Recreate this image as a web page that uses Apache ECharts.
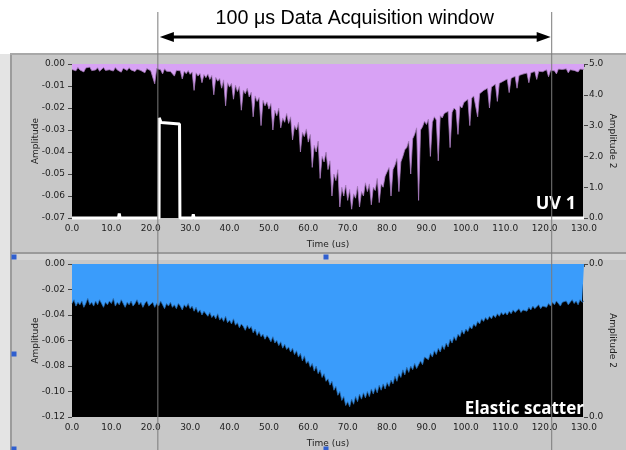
<!DOCTYPE html>
<html>
<head>
<meta charset="utf-8">
<title>UV 1 / Elastic scatter</title>
<script src="https://cdn.jsdelivr.net/npm/echarts@6/dist/echarts.min.js"></script>
<style>
  html, body { margin: 0; padding: 0; background: #ffffff; }
  #chart { width: 626px; height: 450px; }
</style>
</head>
<body>
<div id="chart"></div>
<script>
// ---- data -------------------------------------------------------------
// Samples are taken every 0.5 us from 0 to 130 us.
const SAMPLE_STEP_US = 0.5;

const TIME_TICKS = [0, 10, 20, 30, 40, 50, 60, 70, 80, 90, 100, 110, 120, 130];
const UV_AMP_TICKS = [-0.07, -0.06, -0.05, -0.04, -0.03, -0.02, -0.01, 0.00];
const UV_AMP2_TICKS = [0, 1, 2, 3, 4, 5];
const ES_AMP_TICKS = [-0.12, -0.10, -0.08, -0.06, -0.04, -0.02, 0.00];
const ES_AMP2_TICKS = [0, 0.04];

// acquisition window edges (us)
const WINDOW_US = [21.8, 121.8];

// UV 1 amplitude
const UV1_AMPLITUDE = [
  -0.0025, -0.0019, -0.0031, -0.0016, -0.0027, -0.0022, -0.0036, -0.0018, -0.0026, -0.0014,
  -0.0030, -0.0021, -0.0027, -0.0017, -0.0033, -0.0024, -0.0016, -0.0029, -0.0020, -0.0026,
  -0.0022, -0.0032, -0.0016, -0.0027, -0.0021, -0.0037, -0.0019, -0.0025, -0.0029, -0.0017,
  -0.0027, -0.0020, -0.0034, -0.0023, -0.0015, -0.0030, -0.0022, -0.0040, -0.0021, -0.0028,
  -0.0031, -0.0023, -0.0090, -0.0021, -0.0030, -0.0026, -0.0045, -0.0022, -0.0033, -0.0027,
  -0.0034, -0.0025, -0.0055, -0.0029, -0.0038, -0.0031, -0.0068, -0.0033, -0.0044, -0.0030,
  -0.0047, -0.0036, -0.0120, -0.0040, -0.0055, -0.0043, -0.0085, -0.0048, -0.0062, -0.0045,
  -0.0070, -0.0052, -0.0140, -0.0061, -0.0078, -0.0066, -0.0110, -0.0072, -0.0190, -0.0085,
  -0.0105, -0.0088, -0.0160, -0.0096, -0.0125, -0.0102, -0.0210, -0.0118, -0.0135, -0.0110,
  -0.0150, -0.0128, -0.0240, -0.0145, -0.0170, -0.0152, -0.0280, -0.0165, -0.0190, -0.0172,
  -0.0205, -0.0180, -0.0300, -0.0210, -0.0235, -0.0200, -0.0290, -0.0245, -0.0265, -0.0225,
  -0.0270, -0.0240, -0.0345, -0.0280, -0.0300, -0.0265, -0.0400, -0.0310, -0.0330, -0.0295,
  -0.0355, -0.0320, -0.0470, -0.0370, -0.0400, -0.0350, -0.0520, -0.0420, -0.0445, -0.0400,
  -0.0480, -0.0440, -0.0600, -0.0500, -0.0530, -0.0480, -0.0650, -0.0560, -0.0600, -0.0550,
  -0.0620, -0.0570, -0.0660, -0.0590, -0.0610, -0.0555, -0.0650, -0.0580, -0.0600, -0.0540,
  -0.0580, -0.0545, -0.0640, -0.0560, -0.0575, -0.0520, -0.0630, -0.0545, -0.0560, -0.0510,
  -0.0505, -0.0470, -0.0600, -0.0480, -0.0460, -0.0430, -0.0580, -0.0445, -0.0420, -0.0390,
  -0.0380, -0.0350, -0.0500, -0.0340, -0.0320, -0.0290, -0.0620, -0.0300, -0.0285, -0.0260,
  -0.0275, -0.0250, -0.0420, -0.0265, -0.0240, -0.0255, -0.0440, -0.0235, -0.0245, -0.0225,
  -0.0230, -0.0215, -0.0380, -0.0220, -0.0200, -0.0210, -0.0320, -0.0190, -0.0200, -0.0175,
  -0.0170, -0.0160, -0.0280, -0.0155, -0.0145, -0.0150, -0.0240, -0.0135, -0.0130, -0.0120,
  -0.0125, -0.0110, -0.0200, -0.0105, -0.0100, -0.0092, -0.0170, -0.0088, -0.0085, -0.0078,
  -0.0075, -0.0068, -0.0130, -0.0065, -0.0060, -0.0056, -0.0110, -0.0052, -0.0050, -0.0046,
  -0.0048, -0.0041, -0.0085, -0.0040, -0.0037, -0.0034, -0.0070, -0.0033, -0.0031, -0.0035,
  -0.0030, -0.0026, -0.0058, -0.0029, -0.0024, -0.0031, -0.0045, -0.0023, -0.0028, -0.0025,
  -0.0027, -0.0022, -0.0040, -0.0026, -0.0021, -0.0029, -0.0024, -0.0036, -0.0023, -0.0026,
  -0.0025
];

// trigger pulse on Amplitude 2
const TRIGGER_TIME  = [0, 11.8, 12.0, 12.2, 22.1, 22.15, 22.6, 23.0, 27.3, 27.4, 30.6, 30.8, 31.0, 130];
const TRIGGER_LEVEL = [0, 0,    0.15, 0,    0,    3.25,  3.10, 3.05, 3.05, 0,    0,    0.12, 0,    0];

// Elastic scatter amplitude
const ELASTIC_AMPLITUDE = [
  -0.031, -0.028, -0.033, -0.030, -0.032, -0.029, -0.034, -0.031, -0.027, -0.032,
  -0.030, -0.033, -0.029, -0.032, -0.028, -0.031, -0.034, -0.030, -0.032, -0.029,
  -0.031, -0.027, -0.033, -0.030, -0.032, -0.028, -0.031, -0.034, -0.030, -0.032,
  -0.029, -0.033, -0.031, -0.028, -0.032, -0.030, -0.034, -0.031, -0.029, -0.033,
  -0.032, -0.030, -0.034, -0.031, -0.033, -0.029, -0.032, -0.035, -0.031, -0.033,
  -0.030, -0.034, -0.032, -0.035, -0.031, -0.033, -0.036, -0.032, -0.034, -0.031,
  -0.035, -0.033, -0.037, -0.034, -0.038, -0.036, -0.040, -0.037, -0.039, -0.041,
  -0.038, -0.042, -0.040, -0.043, -0.039, -0.044, -0.042, -0.045, -0.041, -0.046,
  -0.044, -0.047, -0.043, -0.048, -0.046, -0.050, -0.047, -0.049, -0.052, -0.048,
  -0.051, -0.049, -0.054, -0.051, -0.056, -0.053, -0.057, -0.055, -0.059, -0.056,
  -0.058, -0.061, -0.057, -0.062, -0.060, -0.064, -0.061, -0.066, -0.063, -0.067,
  -0.065, -0.069, -0.066, -0.071, -0.068, -0.073, -0.070, -0.076, -0.072, -0.078,
  -0.076, -0.081, -0.078, -0.084, -0.080, -0.086, -0.083, -0.089, -0.086, -0.092,
  -0.090, -0.095, -0.092, -0.099, -0.096, -0.103, -0.100, -0.107, -0.104, -0.111,
  -0.108, -0.112, -0.106, -0.110, -0.104, -0.108, -0.102, -0.106, -0.101, -0.105,
  -0.100, -0.104, -0.098, -0.102, -0.097, -0.101, -0.095, -0.099, -0.094, -0.098,
  -0.093, -0.096, -0.091, -0.094, -0.088, -0.092, -0.086, -0.089, -0.083, -0.087,
  -0.081, -0.085, -0.080, -0.083, -0.078, -0.082, -0.079, -0.076, -0.079, -0.073,
  -0.072, -0.075, -0.070, -0.073, -0.068, -0.071, -0.066, -0.069, -0.064, -0.067,
  -0.062, -0.065, -0.059, -0.062, -0.057, -0.060, -0.055, -0.057, -0.052, -0.055,
  -0.051, -0.053, -0.049, -0.051, -0.047, -0.049, -0.045, -0.047, -0.043, -0.045,
  -0.042, -0.044, -0.041, -0.043, -0.040, -0.042, -0.039, -0.041, -0.038, -0.040,
  -0.038, -0.040, -0.037, -0.039, -0.036, -0.038, -0.037, -0.035, -0.038, -0.036,
  -0.035, -0.037, -0.034, -0.036, -0.033, -0.035, -0.034, -0.032, -0.035, -0.033,
  -0.032, -0.034, -0.031, -0.033, -0.030, -0.032, -0.029, -0.031, -0.033, -0.030,
  -0.031, -0.029, -0.032, -0.030, -0.028, -0.031, -0.029, -0.032, -0.028, -0.030,
  -0.029
];

// ---- chart ------------------------------------------------------------
const LABEL_FONT = 'DejaVu Sans, Verdana, sans-serif';
const PANEL_GREY = '#c8c8c8';
const GRIDS = [
  { left: 72, top: 64, width: 512, height: 154 },
  { left: 72, top: 264, width: 512, height: 153 }
];

function toPoints(values) {
  return values.map((v, i) => [i * SAMPLE_STEP_US, v]);
}
function rangeOf(ticks) {
  return { min: ticks[0], max: ticks[ticks.length - 1], interval: ticks[1] - ticks[0] };
}
function fixed(v, digits) {
  // avoid "-0.00" from floating point residue at the zero tick
  return (Math.abs(v) < 1e-9 ? 0 : v).toFixed(digits);
}

const timeRange = rangeOf(TIME_TICKS);

function timeAxis(gridIndex) {
  return {
    type: 'value', gridIndex,
    min: timeRange.min, max: timeRange.max, interval: timeRange.interval,
    name: 'Time (us)', nameLocation: 'middle', nameGap: 22, nameMoveOverlap: false,
    nameTextStyle: { fontFamily: LABEL_FONT, fontSize: 9, color: '#222' },
    axisLine: { show: false },
    axisTick: { show: true, length: 3, lineStyle: { color: '#444' } },
    axisLabel: { fontFamily: LABEL_FONT, fontSize: 9, color: '#222', margin: 6,
                 formatter: v => fixed(v, 1) },
    splitLine: { show: false }
  };
}

function ampAxis(gridIndex, ticks, position, name, digits) {
  const r = rangeOf(ticks);
  const left = position === 'left';
  return {
    type: 'value', gridIndex, position,
    min: r.min, max: r.max, interval: r.interval,
    name, nameLocation: 'middle', nameMoveOverlap: false,
    nameGap: left ? 32 : 24,
    nameRotate: left ? 90 : -90,
    nameTextStyle: { fontFamily: LABEL_FONT, fontSize: 9, color: '#222' },
    axisLine: { show: false },
    axisTick: { show: true, length: 4, lineStyle: { color: '#444' } },
    axisLabel: { fontFamily: LABEL_FONT, fontSize: 9, color: '#222', margin: left ? 7 : 5,
                 formatter: v => fixed(v, digits) },
    splitLine: { show: false }
  };
}

const chart = echarts.init(document.getElementById('chart'), null, { renderer: 'canvas' });

const option = {
  animation: false,
  backgroundColor: PANEL_GREY,
  grid: GRIDS.map(g => Object.assign({ containLabel: false, outerBoundsMode: 'none' }, g)),
  xAxis: [timeAxis(0), timeAxis(1)],
  yAxis: [
    ampAxis(0, UV_AMP_TICKS, 'left', 'Amplitude', 2),
    ampAxis(0, UV_AMP2_TICKS, 'right', 'Amplitude 2', 1),
    ampAxis(1, ES_AMP_TICKS, 'left', 'Amplitude', 2),
    ampAxis(1, ES_AMP2_TICKS, 'right', 'Amplitude 2', 1)
  ],
  series: [
    {
      name: 'UV 1', type: 'line', xAxisIndex: 0, yAxisIndex: 0,
      data: toPoints(UV1_AMPLITUDE),
      symbol: 'none', z: 2,
      lineStyle: { color: '#a77bbd', width: 0.8 },
      areaStyle: { color: '#d8a2f5', opacity: 1, origin: 'end' }
    },
    {
      name: 'Trigger', type: 'line', xAxisIndex: 0, yAxisIndex: 1,
      data: TRIGGER_TIME.map((t, i) => [t, TRIGGER_LEVEL[i]]),
      symbol: 'none', clip: false, z: 3,
      lineStyle: { color: '#ffffff', width: 3 }
    },
    {
      name: 'Elastic scatter', type: 'line', xAxisIndex: 1, yAxisIndex: 2,
      data: toPoints(ELASTIC_AMPLITUDE),
      symbol: 'none', z: 2,
      lineStyle: { color: '#2a6cb0', width: 0.8 },
      areaStyle: { color: '#3a9cfb', opacity: 1, origin: 'end' }
    }
  ]
};
chart.setOption(option);

// ---- frame, annotations and window markers ---------------------------
const xLeft = chart.convertToPixel({ xAxisIndex: 0 }, WINDOW_US[0]);
const xRight = chart.convertToPixel({ xAxisIndex: 0 }, WINDOW_US[1]);
const arrowY = 37;

function dot(x, y) {
  return { type: 'rect', shape: { x: x - 2.5, y: y - 2.5, width: 5, height: 5 },
           style: { fill: '#2f5fd0' }, z: 50 };
}
function plotBackground(g) {
  return { type: 'rect', z: -1,
           shape: { x: g.left, y: g.top, width: g.width - 1, height: g.height },
           style: { fill: '#000000' } };
}

chart.setOption({
  graphic: [
    // white header strip and panel frame
    { type: 'rect', shape: { x: 0, y: 0, width: 626, height: 54 }, style: { fill: '#ffffff' }, z: -1 },
    { type: 'rect', shape: { x: 0, y: 54, width: 10, height: 396 }, style: { fill: '#e4e4e4' }, z: -1 },
    { type: 'rect', shape: { x: 10, y: 54, width: 2, height: 396 }, style: { fill: '#9c9c9c' }, z: -1 },
    { type: 'rect', shape: { x: 10, y: 53, width: 616, height: 2 }, style: { fill: '#a8a8a8' }, z: -1 },
    { type: 'rect', shape: { x: 10, y: 252, width: 616, height: 2 }, style: { fill: '#9a9a9a' }, z: -1 },
    { type: 'rect', shape: { x: 12, y: 254, width: 614, height: 6 }, style: { fill: '#d4d4d4' }, z: -1 },
    plotBackground(GRIDS[0]),
    plotBackground(GRIDS[1]),

    // panel captions
    { type: 'text', z: 40, style: { text: 'UV 1', x: 576, y: 213, align: 'right', verticalAlign: 'bottom',
      fill: '#ffffff', font: 'bold 18px "Open Sans", "DejaVu Sans", sans-serif' } },
    { type: 'text', z: 40, style: { text: 'Elastic scatter', x: 584, y: 418, align: 'right', verticalAlign: 'bottom',
      fill: '#ffffff', font: 'bold 17px "Open Sans", "DejaVu Sans", sans-serif' } },

    // heading and double arrow
    { type: 'text', z: 40, style: { text: '100 \u03bcs Data Acquisition window', x: (xLeft + xRight) / 2, y: 19,
      align: 'center', verticalAlign: 'middle', fill: '#000000',
      font: '19.7px "Liberation Sans", Arial, sans-serif' } },
    { type: 'line', z: 40, shape: { x1: xLeft + 10, y1: arrowY, x2: xRight - 10, y2: arrowY },
      style: { stroke: '#000000', lineWidth: 3 } },
    { type: 'polygon', z: 40, shape: { points: [[xLeft + 2, arrowY], [xLeft + 16, arrowY - 5], [xLeft + 16, arrowY + 5]] },
      style: { fill: '#000000' } },
    { type: 'polygon', z: 40, shape: { points: [[xRight - 1, arrowY], [xRight - 15, arrowY - 5], [xRight - 15, arrowY + 5]] },
      style: { fill: '#000000' } },

    // window edge markers
    { type: 'line', z: 60, shape: { x1: xLeft, y1: 12, x2: xLeft, y2: 450 }, style: { stroke: '#7a7a7a', lineWidth: 1 } },
    { type: 'line', z: 60, shape: { x1: xRight, y1: 12, x2: xRight, y2: 450 }, style: { stroke: '#7a7a7a', lineWidth: 1 } },

    // splitter handles
    dot(14, 257), dot(326, 257), dot(14, 354), dot(14, 449), dot(326, 449)
  ]
});
</script>
</body>
</html>
